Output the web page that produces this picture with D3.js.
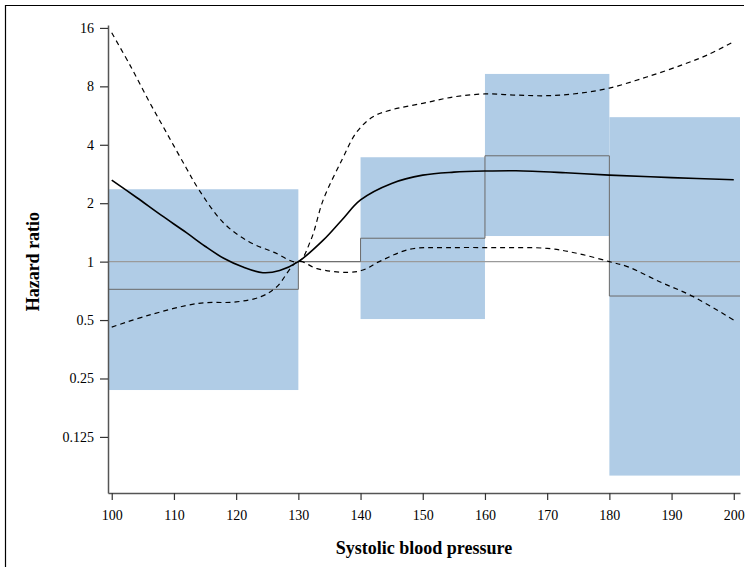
<!DOCTYPE html>
<html>
<head>
<meta charset="utf-8">
<script src="https://cdn.jsdelivr.net/npm/d3@7"></script>
<style>
body { margin: 0; background: #fff; }
</style>
</head>
<body>
<script>
// hazard ratio spline
var sbpFit = [100, 104, 108, 112, 115, 118, 121, 124.3, 127, 130, 134, 137, 140, 145, 150, 155, 160, 165, 173, 180, 190, 200];
var hrFit = [2.63, 2.14, 1.73, 1.41, 1.20, 1.04, 0.94, 0.877, 0.90, 1.00, 1.29, 1.64, 2.08, 2.53, 2.79, 2.89, 2.93, 2.94, 2.87, 2.79, 2.71, 2.64];

var sbpUpper = [100, 103, 106, 109, 112, 114, 118, 122, 126, 130, 132, 134, 137, 139.4, 142, 145, 150, 155, 160, 165, 170, 175, 180, 186, 192, 196, 200];
var hrUpper = [15.1, 10.2, 6.7, 4.5, 3.03, 2.35, 1.58, 1.27, 1.12, 1.00, 1.29, 2.08, 3.34, 4.66, 5.58, 6.06, 6.54, 7.06, 7.31, 7.21, 7.16, 7.36, 7.84, 8.94, 10.4, 11.7, 13.6];

var sbpLower = [100, 106, 114, 120, 124, 126.5, 130, 133, 138, 140.4, 143, 148, 154, 162, 170, 175, 180, 183, 188, 193.5, 200];
var hrLower = [0.46, 0.53, 0.61, 0.62, 0.66, 0.74, 1.00, 0.92, 0.88, 0.905, 1.00, 1.16, 1.18, 1.18, 1.17, 1.10, 1.00, 0.94, 0.79, 0.66, 0.50];

// categorical estimates: first and last category run to the axis ends
var catStart = [99.4, 130, 140, 160, 180];
var catEnd = [130, 140, 160, 180, 201];
var catHr = [0.72, 1.00, 1.32, 3.51, 0.665];
var catLo = [0.218, null, 0.506, 1.355, 0.079];
var catHi = [2.36, null, 3.45, 9.27, 5.55];

var xTicks = [100, 110, 120, 130, 140, 150, 160, 170, 180, 190, 200];
var yTicks = [0.125, 0.25, 0.5, 1, 2, 4, 8, 16];
var yTickLabels = ["0.125", "0.25", "0.5", "1", "2", "4", "8", "16"];

var w = 749, h = 567;
var mLeft = 108, mRight = 740, mTop = 25, mBottom = 493;

var svg = d3.select("body").append("svg")
    .attr("width", w)
    .attr("height", h)
    .style("font-family", "'Liberation Serif', 'Times New Roman', serif");

var x = d3.scaleLinear().domain([99.4, 201]).range([mLeft, mRight]);
var y = d3.scaleLog().base(2).domain([Math.pow(2, -3.96), Math.pow(2, 4.05)]).range([mBottom, mTop]);

// outer frame (right/bottom edges fall outside the picture)
svg.append("path")
    .attr("d", "M5.5,567V5.5H744")
    .attr("fill", "none")
    .attr("stroke", "#000")
    .attr("stroke-width", 1.2);

// confidence boxes
var boxes = [];
for (var i = 0; i < catStart.length; i++) {
    if (catLo[i] !== null)
        boxes.push({x0: catStart[i], x1: catEnd[i], lo: catLo[i], hi: catHi[i]});
}
svg.selectAll("rect.box")
    .data(boxes)
    .enter()
    .append("rect")
    .attr("class", "box")
    .attr("x", function(d) { return x(d.x0); })
    .attr("width", function(d) { return x(d.x1) - x(d.x0); })
    .attr("y", function(d) { return y(d.hi); })
    .attr("height", function(d) { return y(d.lo) - y(d.hi); })
    .attr("fill", "#b0cce6");

// reference line at HR = 1
svg.append("line")
    .attr("x1", mLeft).attr("x2", mRight)
    .attr("y1", y(1)).attr("y2", y(1))
    .attr("stroke", "#9a9a9a")
    .attr("stroke-width", 1.3);

// step line of categorical estimates
var steps = catStart.map(function(s, i) { return [s, catHr[i]]; });
steps.push([catEnd[catEnd.length - 1], catHr[catHr.length - 1]]);
svg.append("path")
    .datum(steps)
    .attr("d", d3.line()
        .curve(d3.curveStepAfter)
        .x(function(d) { return x(d[0]); })
        .y(function(d) { return y(d[1]); }))
    .attr("fill", "none")
    .attr("stroke", "#6a6a6a")
    .attr("stroke-width", 1);

var line = d3.line()
    .curve(d3.curveCatmullRom.alpha(0.5))
    .x(function(d) { return x(d[0]); })
    .y(function(d) { return y(d[1]); });

function pairs(a, b) {
    return a.map(function(v, i) { return [v, b[i]]; });
}

svg.append("path")
    .datum(pairs(sbpUpper, hrUpper))
    .attr("d", line)
    .attr("fill", "none")
    .attr("stroke", "#000")
    .attr("stroke-width", 1.2)
    .attr("stroke-dasharray", "5,4");

svg.append("path")
    .datum(pairs(sbpLower, hrLower))
    .attr("d", line)
    .attr("fill", "none")
    .attr("stroke", "#000")
    .attr("stroke-width", 1.2)
    .attr("stroke-dasharray", "5,4");

svg.append("path")
    .datum(pairs(sbpFit, hrFit))
    .attr("d", line)
    .attr("fill", "none")
    .attr("stroke", "#000")
    .attr("stroke-width", 1.6);

// axes
var xAxis = d3.axisBottom(x).tickValues(xTicks).tickSize(7).tickSizeOuter(0);
var yAxis = d3.axisLeft(y).tickValues(yTicks).tickSize(8).tickSizeOuter(0)
    .tickFormat(function(d, i) { return yTickLabels[i]; });

var gx = svg.append("g")
    .attr("transform", "translate(0," + mBottom + ")")
    .call(xAxis);
var gy = svg.append("g")
    .attr("transform", "translate(" + mLeft + ",0)")
    .call(yAxis);

[gx, gy].forEach(function(g) {
    g.select(".domain").attr("stroke", "#555").attr("stroke-width", 1.5);
    g.selectAll(".tick line").attr("stroke", "#333").attr("stroke-width", 1.2);
    g.selectAll(".tick text")
        .attr("fill", "#000")
        .style("font-family", "'Liberation Serif', serif")
        .style("font-size", "14px");
});
gx.selectAll(".tick text").attr("dy", "1.2em");
gy.selectAll(".tick text").attr("x", -14);

svg.append("text")
    .attr("x", (mLeft + mRight) / 2)
    .attr("y", 554)
    .attr("text-anchor", "middle")
    .style("font-size", "18px")
    .style("font-weight", "bold")
    .text("Systolic blood pressure");

svg.append("text")
    .attr("transform", "translate(39," + y(1) + ") rotate(-90)")
    .attr("text-anchor", "middle")
    .style("font-size", "18px")
    .style("font-weight", "bold")
    .text("Hazard ratio");
</script>
</body>
</html>
